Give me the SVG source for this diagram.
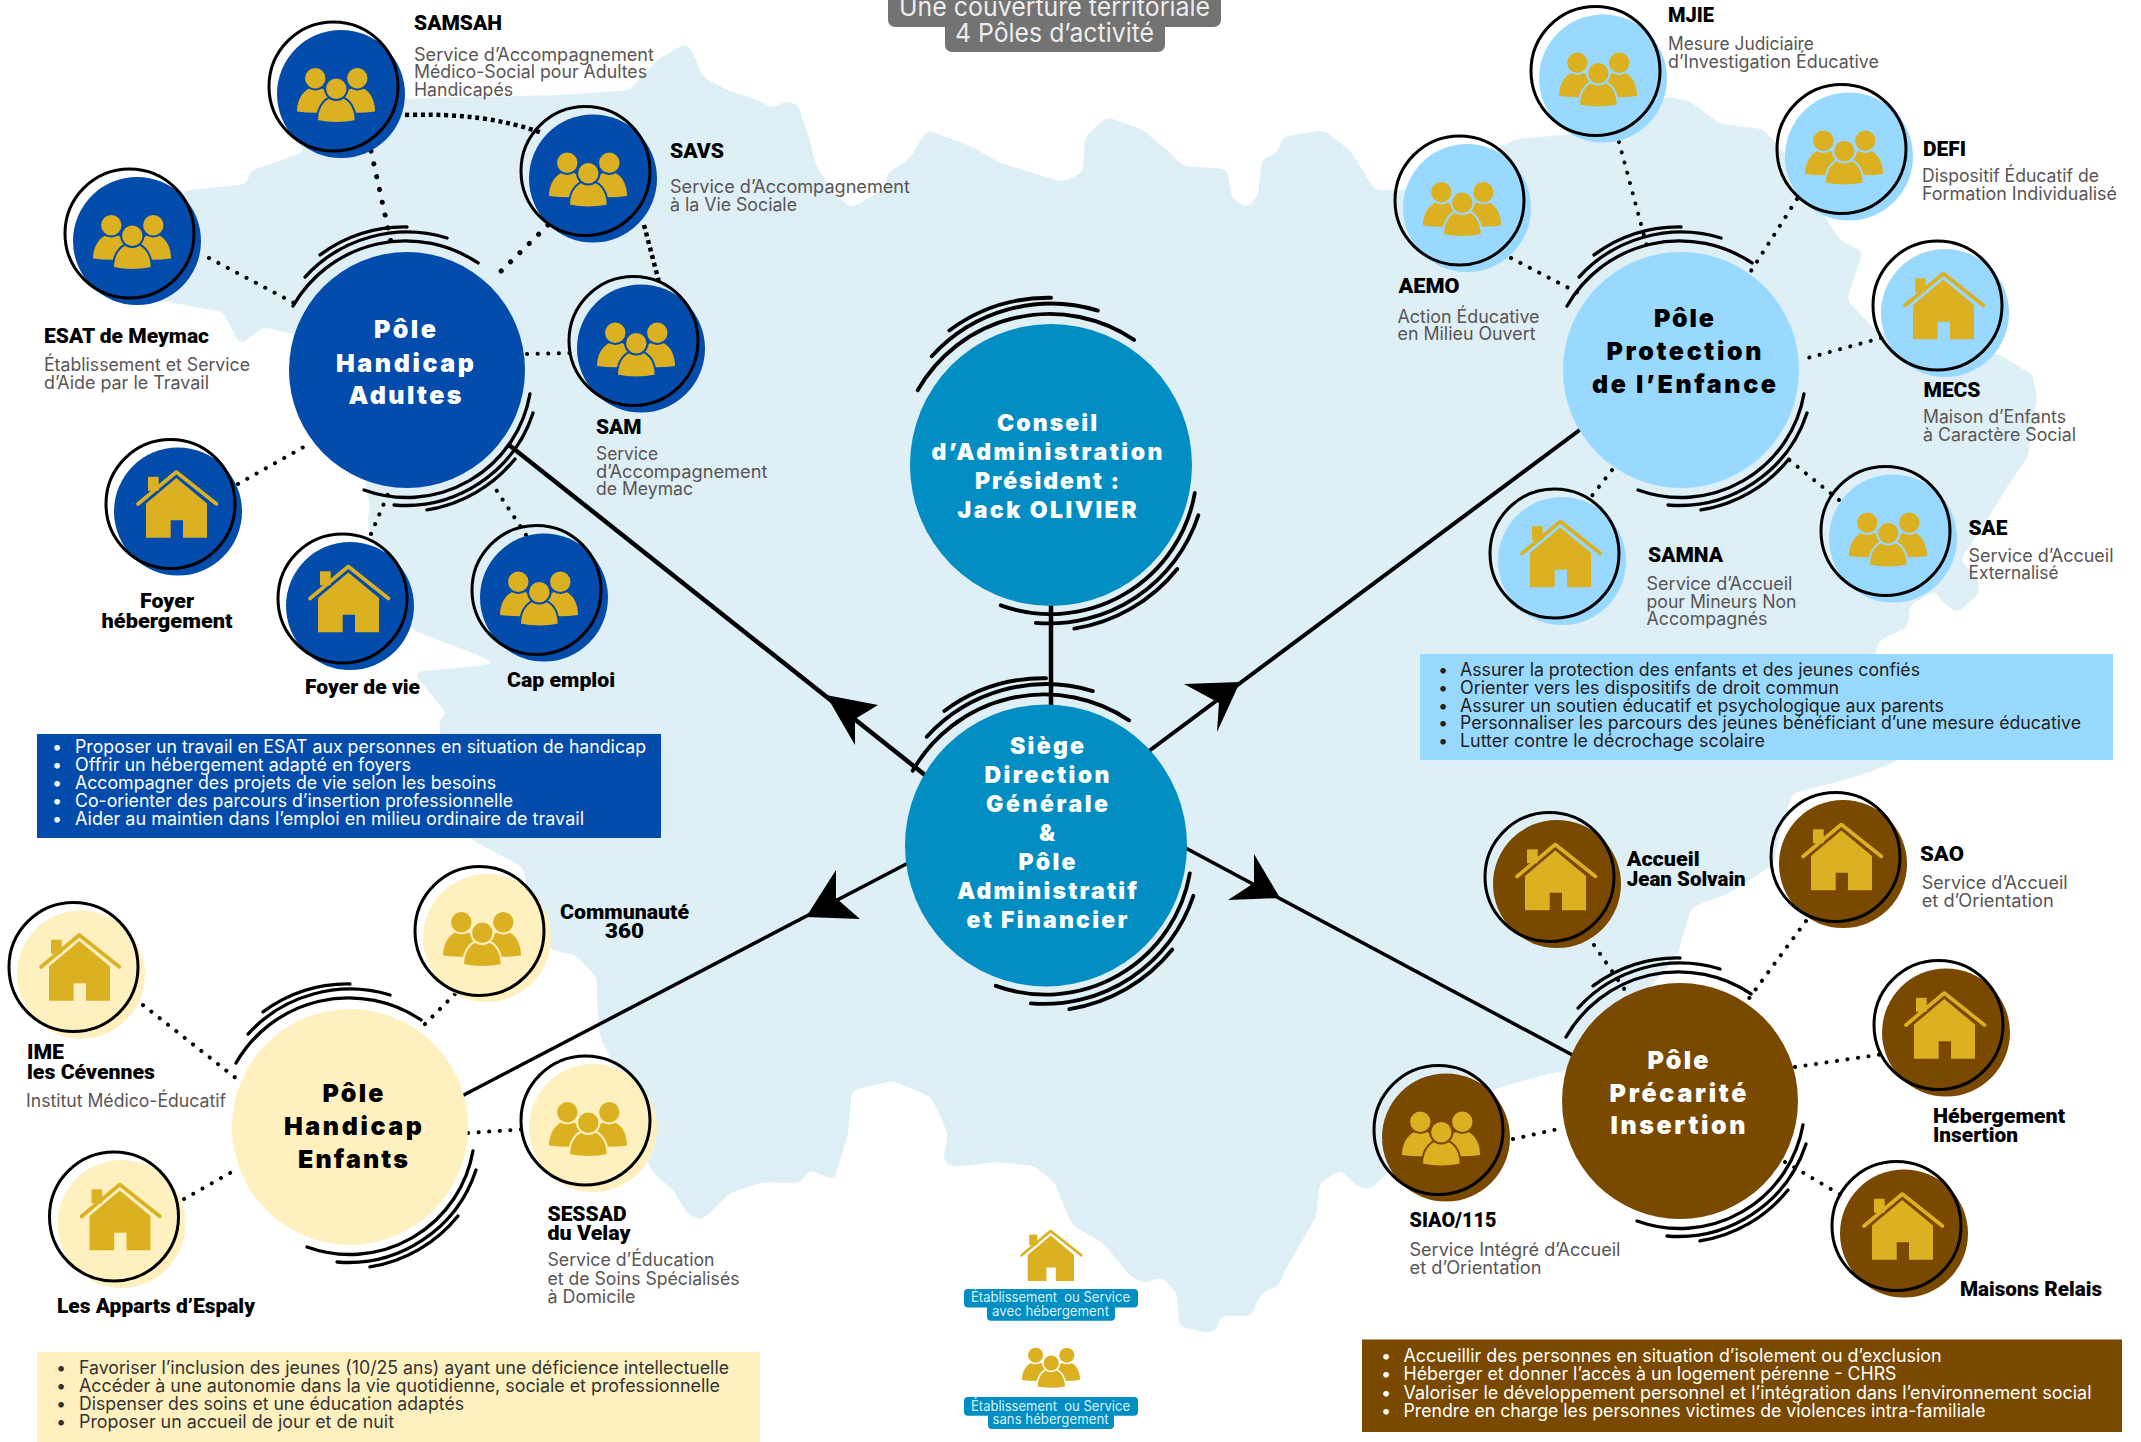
<svg xmlns="http://www.w3.org/2000/svg" width="2141" height="1442" viewBox="0 0 2141 1442">
<style>
text{font-family:"Inter","Liberation Sans",sans-serif}
.n{font-family:"Roboto","Liberation Sans",sans-serif;font-weight:900;font-size:19.5px;fill:#000}
.d{font-size:18px;font-weight:400;fill:#595555}
.t{font-weight:900;font-size:25px;letter-spacing:2px;text-anchor:middle;fill:#fff}
.c{font-weight:900;font-size:23px;text-anchor:middle;fill:#fff}
.t.k{fill:#000}
.l{font-size:18px;font-weight:400}
.w{fill:#fff}.y{fill:#333}.q{fill:#222}
.m{text-anchor:middle}
.o{fill:none;stroke:#000;stroke-width:3}
.sw path{fill:none;stroke:#000;stroke-width:2.8;stroke-linecap:round}
.dot{fill:none;stroke:#000;stroke-width:4;stroke-linecap:round;stroke-dasharray:.1 10.5}
.dot2{fill:none;stroke:#000;stroke-width:5;stroke-linecap:round;stroke-dasharray:.1 13}
.sq{fill:none;stroke:#000;stroke-width:4.5;stroke-dasharray:4 3.8}
.ln{stroke:#000;stroke-linecap:butt;fill:none}
.ar{fill:#000}
.ha{fill:#034CAC;color:#034CAC}.pe{fill:#9AD9FF;color:#9AD9FF}.en{fill:#FEF1BF;color:#FEF1BF}.pr{fill:#7A4900;color:#7A4900}.si{fill:#028EC2}
.ic{fill:#DBB122;stroke:none}
.ring{stroke:currentColor;stroke-width:2}
.lg{font-size:14px;font-weight:400;fill:#D8F1FA;text-anchor:middle}
.tp{font-size:26px;font-weight:400;fill:#ECECEC;text-anchor:middle}
</style>
<defs>
<filter id="soft" x="-2%" y="-2%" width="104%" height="104%"><feGaussianBlur stdDeviation="3.5"/><feComponentTransfer><feFuncA type="linear" slope="8" intercept="-3.5"/></feComponentTransfer></filter>
<g id="swirl" class="sw">
<path d="M-96.6 -54.2A110 110 0 0 1 60.2 -90.7"/>
<path d="M-86.4 -78.8A117 117 0 0 1 33.9 -111.9"/>
<path d="M-73.7 -97.5A121 121 0 0 1 0 -121.2"/>
<path d="M104.2 20.3A106 106 0 0 1 -36.4 101.7"/>
<path d="M106.8 36.4A114 114 0 0 1 -11 114.4"/>
<path d="M91.5 75.4A120 120 0 0 1 16.9 118.6"/>
</g>
<g id="house" class="ic">
<path d="M-40 -7.5L-1.7 -39.5L38.5 -7.5" stroke-width="3.6" stroke-linecap="round" stroke-linejoin="round" style="stroke:#DBB122;fill:none"/>
<rect x="-30" y="-34.7" width="10.7" height="14"/>
<path d="M-1.7 -33.5L29 -8V26.3H5V8.7H-7.3V26.3H-32V-8Z"/>
</g>
<g id="people" class="ic">
<path d="M-44 17.5C-44 2 -34 -7 -25.7 -7C-16 -7 -7 2 -7 17.5Q-25 20 -44 17.5Z"/>
<path d="M34 17.5C34 2 25 -7 16.3 -7C7 -7 -2 2 -2 17.5Q16 20 34 17.5Z"/>
<circle class="ring" cx="-25.7" cy="-15.8" r="11.2"/>
<circle class="ring" cx="16.3" cy="-15.8" r="11.2"/>
<path class="ring" d="M-24 27C-24 10 -14 2 -4.7 2C5 2 14.7 10 14.7 27Q-4.7 31 -24 27Z"/>
<circle class="ring" cx="-4.7" cy="-5.2" r="11.2"/>
</g>
</defs>
<path id="map" fill="#DEEFF6" filter="url(#soft)" d="M200 308L160 300L120 250L150 200L170 196L190 190L247 184L250 171L273 163L307 151L293 140L340 100L560 95L603 92L630 90L657 60L687 43L693 53L703 77L727 90L757 100L773 108L787 101L798 105L810 140L815 163L833 193L852 208L883 190L888 173L910 158L927 130L973 147L1000 163L1063 182L1083 172L1085 137L1107 117L1143 130L1167 150L1183 166L1227 169L1232 198L1247 208L1258 195L1262 159L1277 153L1283 137L1323 130L1350 150L1375 190L1420 190L1516 139L1574 134L1600 110L1671 97L1691 102L1720 124L1763 129L1800 170L1827 220L1840 240L1863 252L1850 290L1847 300L1873 328L1900 340L2000 355L2033 375L2037 397L2028 457L2007 487L1987 520L1960 560L1977 577L1980 593L1957 613L1940 600L1937 590L1910 605L1908 627L1880 640L1875 653L1890 700L1900 760L1867 773L1833 783L1793 793L1780 830L1774 864L1728 894L1692 907L1686 925L1677 957L1620 1020L1565 1071L1544 1075L1498 1088L1440 1120L1371 1189L1358 1187L1340 1170L1320 1183L1316 1217L1285 1270L1279 1286L1261 1293L1251 1316L1220 1316L1217 1330L1206 1333L1179 1326L1177 1293L1162 1277L1144 1283L1131 1277L1103 1243L1072 1225L1067 1213L1055 1183L1034 1166L996 1162L955 1167L943 1162L948 1134L931 1097L893 1081L852 1090L848 1134L841 1157L834 1180L810 1170L800 1183L763 1182L730 1193L710 1213L700 1220L687 1213L673 1190L653 1173L620 1100L610 1057L600 1037L597 1000L597 978L576 955L551 950L530 900L523 867L472 840L445 800L439 720L447 714L413 672L500 664L413 630L380 560L367 523L370 507L360 450L297 335L263 327L240 345L223 312Z"/>
<g id="title">
<rect x="888" y="-12" width="333" height="39" rx="7" fill="#737373"/>
<rect x="945" y="14" width="220" height="38" rx="7" fill="#737373"/>
<text class="tp" x="1054.5" y="16" textLength="311" lengthAdjust="spacingAndGlyphs">Une couverture territoriale</text>
<text class="tp" x="1054.5" y="42" textLength="199" lengthAdjust="spacingAndGlyphs">4 Pôles d’activité</text>
</g>
<g id="connectors">
<line class="ln" stroke-width="4.5" x1="1051" y1="600" x2="1051" y2="710"/>
<line class="ln" stroke-width="4.5" x1="509" y1="445" x2="930" y2="779"/>
<polygon class="ar" points="826,695 878,705 855,719 855,745"/>
<line class="ln" stroke-width="4" x1="1145" y1="754" x2="1585" y2="426"/>
<polygon class="ar" points="1240,682 1184,684 1219,703 1217,732"/>
<line class="ln" stroke-width="3.5" x1="1180" y1="845" x2="1578" y2="1058"/>
<polygon class="ar" points="1280,898 1254,854 1254,883 1228,900"/>
<line class="ln" stroke-width="3.5" x1="912" y1="861" x2="458" y2="1098"/>
<polygon class="ar" points="806,917 836,870 836,898 860,919"/>
<line class="dot2" x1="371" y1="151" x2="393" y2="251"/>
<path class="sq" d="M405 115Q485 112 542 133"/>
<line class="dot2" x1="548" y1="225" x2="494" y2="278"/>
<line class="sq" x1="644" y1="225" x2="659" y2="282"/>
<line class="dot" x1="209" y1="258" x2="294" y2="303"/>
<line class="dot" x1="527" y1="354" x2="573" y2="353"/>
<line class="dot" x1="238" y1="484" x2="309" y2="444"/>
<line class="dot" x1="371" y1="534" x2="391" y2="487"/>
<line class="dot" x1="526" y1="535" x2="491" y2="482"/>
<line class="dot" x1="1619" y1="142" x2="1649" y2="254"/>
<line class="dot" x1="1797" y1="199" x2="1751" y2="271"/>
<line class="dot" x1="1511" y1="258" x2="1586" y2="297"/>
<line class="dot" x1="1881" y1="338" x2="1804" y2="359"/>
<line class="dot" x1="1839" y1="500" x2="1788" y2="459"/>
<line class="dot" x1="1612" y1="470" x2="1591" y2="497"/>
<line class="dot" x1="455" y1="994" x2="421" y2="1028"/>
<line class="dot" x1="143" y1="1005" x2="237" y2="1079"/>
<line class="dot" x1="184" y1="1199" x2="237" y2="1169"/>
<line class="dot" x1="468" y1="1133" x2="528" y2="1129"/>
<line class="dot" x1="1594" y1="945" x2="1627" y2="993"/>
<line class="dot" x1="1806" y1="921" x2="1747" y2="1001"/>
<line class="dot" x1="1795" y1="1067" x2="1884" y2="1054"/>
<line class="dot" x1="1513" y1="1139" x2="1563" y2="1128"/>
<line class="dot" x1="1785" y1="1162" x2="1846" y2="1198"/>
</g>

<g id="box-handicap-adultes">
<rect x="37" y="734" width="624" height="104" class="ha"/>
<text class="l w" x="52" y="753">•</text><text class="l w" x="75" y="753" textLength="571" lengthAdjust="spacingAndGlyphs">Proposer un travail en ESAT aux personnes en situation de handicap</text>
<text class="l w" x="52" y="771">•</text><text class="l w" x="75" y="771" textLength="336" lengthAdjust="spacingAndGlyphs">Offrir un hébergement adapté en foyers</text>
<text class="l w" x="52" y="789">•</text><text class="l w" x="75" y="789" textLength="421" lengthAdjust="spacingAndGlyphs">Accompagner des projets de vie selon les besoins</text>
<text class="l w" x="52" y="807">•</text><text class="l w" x="75" y="807" textLength="438" lengthAdjust="spacingAndGlyphs">Co-orienter des parcours d’insertion professionnelle</text>
<text class="l w" x="52" y="825">•</text><text class="l w" x="75" y="825" textLength="509" lengthAdjust="spacingAndGlyphs">Aider au maintien dans l’emploi en milieu ordinaire de travail</text>
</g>
<g id="box-protection">
<rect x="1420" y="654" width="693" height="106" class="pe"/>
<text class="l q" x="1438" y="675.5">•</text><text class="l q" x="1460" y="675.5" textLength="460" lengthAdjust="spacingAndGlyphs">Assurer la protection des enfants et des jeunes confiés</text>
<text class="l q" x="1438" y="693.5">•</text><text class="l q" x="1460" y="693.5" textLength="379" lengthAdjust="spacingAndGlyphs">Orienter vers les dispositifs de droit commun</text>
<text class="l q" x="1438" y="711.5">•</text><text class="l q" x="1460" y="711.5" textLength="484" lengthAdjust="spacingAndGlyphs">Assurer un soutien éducatif et psychologique aux parents</text>
<text class="l q" x="1438" y="729.3">•</text><text class="l q" x="1460" y="729.3" textLength="621" lengthAdjust="spacingAndGlyphs">Personnaliser les parcours des jeunes bénéficiant d’une mesure éducative</text>
<text class="l q" x="1438" y="747">•</text><text class="l q" x="1460" y="747" textLength="305" lengthAdjust="spacingAndGlyphs">Lutter contre le décrochage scolaire</text>
</g>
<g id="box-enfants">
<rect x="37" y="1352" width="723" height="97" class="en"/>
<text class="l y" x="56" y="1374">•</text><text class="l y" x="79" y="1374" textLength="650" lengthAdjust="spacingAndGlyphs">Favoriser l’inclusion des jeunes (10/25 ans) ayant une déficience intellectuelle</text>
<text class="l y" x="56" y="1392">•</text><text class="l y" x="79" y="1392" textLength="641" lengthAdjust="spacingAndGlyphs">Accéder à une autonomie dans la vie quotidienne, sociale et professionnelle</text>
<text class="l y" x="56" y="1410">•</text><text class="l y" x="79" y="1410" textLength="385" lengthAdjust="spacingAndGlyphs">Dispenser des soins et une éducation adaptés</text>
<text class="l y" x="56" y="1428">•</text><text class="l y" x="79" y="1428" textLength="315" lengthAdjust="spacingAndGlyphs">Proposer un accueil de jour et de nuit</text>
</g>
<g id="box-precarite">
<rect x="1362" y="1339.5" width="760" height="92.5" class="pr"/>
<text class="l w" x="1381" y="1362">•</text><text class="l w" x="1403.5" y="1362" textLength="538" lengthAdjust="spacingAndGlyphs">Accueillir des personnes en situation d’isolement ou d’exclusion</text>
<text class="l w" x="1381" y="1380">•</text><text class="l w" x="1403.5" y="1380" textLength="493" lengthAdjust="spacingAndGlyphs">Héberger et donner l’accès à un logement pérenne - CHRS</text>
<text class="l w" x="1381" y="1398.5">•</text><text class="l w" x="1403.5" y="1398.5" textLength="688" lengthAdjust="spacingAndGlyphs">Valoriser le développement personnel et l’intégration dans l’environnement social</text>
<text class="l w" x="1381" y="1416.7">•</text><text class="l w" x="1403.5" y="1416.7" textLength="582" lengthAdjust="spacingAndGlyphs">Prendre en charge les personnes victimes de violences intra-familiale</text>
</g>

<g id="conseil"><circle cx="1051" cy="465" r="141" class="si"/><use href="#swirl" transform="translate(1051 465) scale(1.38)"/>
<text class="c" x="1047" y="431" textLength="100" lengthAdjust="spacing">Conseil</text>
<text class="c" x="1047" y="460" textLength="231" lengthAdjust="spacing">d’Administration</text>
<text class="c" x="1047" y="489" textLength="144" lengthAdjust="spacing">Président :</text>
<text class="c" x="1047" y="518" textLength="179" lengthAdjust="spacing">Jack OLIVIER</text>
</g>
<g id="siege"><circle cx="1046" cy="845.5" r="141" class="si"/><use href="#swirl" transform="translate(1046 845.5) scale(1.38)"/>
<text class="c" x="1047" y="754" textLength="74" lengthAdjust="spacing">Siège</text>
<text class="c" x="1047" y="783" textLength="125" lengthAdjust="spacing">Direction</text>
<text class="c" x="1047" y="812" textLength="122" lengthAdjust="spacing">Générale</text>
<text class="c" x="1047" y="841">&amp;</text>
<text class="c" x="1047" y="870" textLength="57" lengthAdjust="spacing">Pôle</text>
<text class="c" x="1047" y="899" textLength="180" lengthAdjust="spacing">Administratif</text>
<text class="c" x="1047" y="928" textLength="161" lengthAdjust="spacing">et Financier</text>
</g>

<g id="pole-handicap-adultes"><circle cx="407" cy="370" r="118" class="ha"/><use href="#swirl" transform="translate(407 370) scale(1.18)"/>
<text class="t" x="406" y="338" textLength="64" lengthAdjust="spacing">Pôle</text>
<text class="t" x="406" y="371.5" textLength="140" lengthAdjust="spacing">Handicap</text>
<text class="t" x="406" y="404" textLength="115" lengthAdjust="spacing">Adultes</text></g>
<g id="pole-protection"><circle cx="1681" cy="370" r="118" class="pe"/><use href="#swirl" transform="translate(1681 370) scale(1.18)"/>
<text class="t k" x="1685" y="327" textLength="62" lengthAdjust="spacing">Pôle</text>
<text class="t k" x="1685" y="360" textLength="157" lengthAdjust="spacing">Protection</text>
<text class="t k" x="1685" y="393" textLength="186" lengthAdjust="spacing">de l’Enfance</text></g>
<g id="pole-enfants"><circle cx="350" cy="1127" r="118" class="en"/><use href="#swirl" transform="translate(350 1127) scale(1.18)"/>
<text class="t k" x="354" y="1102" textLength="63" lengthAdjust="spacing">Pôle</text>
<text class="t k" x="354" y="1135" textLength="140" lengthAdjust="spacing">Handicap</text>
<text class="t k" x="354" y="1168" textLength="112" lengthAdjust="spacing">Enfants</text></g>
<g id="pole-precarite"><circle cx="1680" cy="1101" r="118" class="pr"/><use href="#swirl" transform="translate(1680 1101) scale(1.18)"/>
<text class="t" x="1679" y="1069" textLength="63" lengthAdjust="spacing">Pôle</text>
<text class="t" x="1679" y="1102" textLength="139" lengthAdjust="spacing">Précarité</text>
<text class="t" x="1679" y="1134" textLength="137" lengthAdjust="spacing">Insertion</text></g>

<g id="samsah"><g class="ha"><circle cx="341" cy="94" r="64"/><use href="#people" transform="translate(341 94)"/></g><circle class="o" cx="333.5" cy="86.5" r="64.5"/>
<text class="n" x="414" y="30" textLength="88" lengthAdjust="spacingAndGlyphs">SAMSAH</text>
<text class="d" x="414" y="60.5" textLength="240" lengthAdjust="spacingAndGlyphs">Service d’Accompagnement</text>
<text class="d" x="414" y="78" textLength="233" lengthAdjust="spacingAndGlyphs">Médico-Social pour Adultes</text>
<text class="d" x="414" y="96" textLength="99" lengthAdjust="spacingAndGlyphs">Handicapés</text></g>
<g id="savs"><g class="ha"><circle cx="593" cy="178.5" r="64"/><use href="#people" transform="translate(593 178.5)"/></g><circle class="o" cx="585.5" cy="171" r="64.5"/>
<text class="n" x="670" y="158" textLength="54" lengthAdjust="spacingAndGlyphs">SAVS</text>
<text class="d" x="670" y="193" textLength="240" lengthAdjust="spacingAndGlyphs">Service d’Accompagnement</text>
<text class="d" x="670" y="211" textLength="127" lengthAdjust="spacingAndGlyphs">à la Vie Sociale</text></g>
<g id="esat"><g class="ha"><circle cx="137" cy="241" r="64"/><use href="#people" transform="translate(137 241)"/></g><circle class="o" cx="129.5" cy="233.5" r="64.5"/>
<text class="n" x="44" y="343" textLength="165" lengthAdjust="spacingAndGlyphs">ESAT de Meymac</text>
<text class="d" x="44" y="371" textLength="206" lengthAdjust="spacingAndGlyphs">Établissement et Service</text>
<text class="d" x="44" y="389" textLength="165" lengthAdjust="spacingAndGlyphs">d’Aide par le Travail</text></g>
<g id="sam"><g class="ha"><circle cx="641" cy="348.5" r="64"/><use href="#people" transform="translate(641 348.5)"/></g><circle class="o" cx="633.5" cy="341" r="64.5"/>
<text class="n" x="596" y="433.5" textLength="45.5" lengthAdjust="spacingAndGlyphs">SAM</text>
<text class="d" x="596" y="460" textLength="62" lengthAdjust="spacingAndGlyphs">Service</text>
<text class="d" x="596" y="477.5" textLength="171.5" lengthAdjust="spacingAndGlyphs">d’Accompagnement</text>
<text class="d" x="596" y="495" textLength="97" lengthAdjust="spacingAndGlyphs">de Meymac</text></g>
<g id="foyer-hebergement"><g class="ha"><circle cx="178" cy="511.5" r="64"/><use href="#house" transform="translate(178 511.5)"/></g><circle class="o" cx="170.5" cy="504" r="64.5"/>
<text class="n m" x="167" y="607.5" textLength="54" lengthAdjust="spacingAndGlyphs">Foyer</text>
<text class="n m" x="167" y="627.5" textLength="131" lengthAdjust="spacingAndGlyphs">hébergement</text></g>
<g id="foyer-vie"><g class="ha"><circle cx="350" cy="606" r="64"/><use href="#house" transform="translate(350 606)"/></g><circle class="o" cx="342.5" cy="598.5" r="64.5"/>
<text class="n" x="305" y="694" textLength="115" lengthAdjust="spacingAndGlyphs">Foyer de vie</text></g>
<g id="cap-emploi"><g class="ha"><circle cx="544" cy="597.5" r="64"/><use href="#people" transform="translate(544 597.5)"/></g><circle class="o" cx="536.5" cy="590" r="64.5"/>
<text class="n" x="507" y="686.5" textLength="108" lengthAdjust="spacingAndGlyphs">Cap emploi</text></g>

<g id="mjie"><g class="pe"><circle cx="1603" cy="78.5" r="64"/><use href="#people" transform="translate(1603 78.5)"/></g><circle class="o" cx="1595.5" cy="71" r="64.5"/>
<text class="n" x="1668" y="22" textLength="46" lengthAdjust="spacingAndGlyphs">MJIE</text>
<text class="d" x="1668" y="50" textLength="146" lengthAdjust="spacingAndGlyphs">Mesure Judiciaire</text>
<text class="d" x="1668" y="68" textLength="211" lengthAdjust="spacingAndGlyphs">d’Investigation Éducative</text></g>
<g id="defi"><g class="pe"><circle cx="1849" cy="156.5" r="64"/><use href="#people" transform="translate(1849 156.5)"/></g><circle class="o" cx="1841.5" cy="149" r="64.5"/>
<text class="n" x="1923" y="156" textLength="43" lengthAdjust="spacingAndGlyphs">DEFI</text>
<text class="d" x="1922" y="182" textLength="177" lengthAdjust="spacingAndGlyphs">Dispositif Éducatif de</text>
<text class="d" x="1922" y="200" textLength="195" lengthAdjust="spacingAndGlyphs">Formation Individualisé</text></g>
<g id="aemo"><g class="pe"><circle cx="1467" cy="208" r="64"/><use href="#people" transform="translate(1467 208)"/></g><circle class="o" cx="1459.5" cy="200.5" r="64.5"/>
<text class="n" x="1398.5" y="293" textLength="61" lengthAdjust="spacingAndGlyphs">AEMO</text>
<text class="d" x="1397.5" y="322.5" textLength="142" lengthAdjust="spacingAndGlyphs">Action Éducative</text>
<text class="d" x="1397.5" y="340" textLength="138" lengthAdjust="spacingAndGlyphs">en Milieu Ouvert</text></g>
<g id="mecs"><g class="pe"><circle cx="1945" cy="313" r="64"/><use href="#house" transform="translate(1945 313)"/></g><circle class="o" cx="1937.5" cy="305.5" r="64.5"/>
<text class="n" x="1923.5" y="397" textLength="57" lengthAdjust="spacingAndGlyphs">MECS</text>
<text class="d" x="1923" y="423" textLength="143" lengthAdjust="spacingAndGlyphs">Maison d’Enfants</text>
<text class="d" x="1923" y="441" textLength="153" lengthAdjust="spacingAndGlyphs">à Caractère Social</text></g>
<g id="sae"><g class="pe"><circle cx="1893" cy="538.5" r="64"/><use href="#people" transform="translate(1893 538.5)"/></g><circle class="o" cx="1885.5" cy="531" r="64.5"/>
<text class="n" x="1968.5" y="535" textLength="39" lengthAdjust="spacingAndGlyphs">SAE</text>
<text class="d" x="1968.5" y="561.5" textLength="145" lengthAdjust="spacingAndGlyphs">Service d’Accueil</text>
<text class="d" x="1968.5" y="579" textLength="90" lengthAdjust="spacingAndGlyphs">Externalisé</text></g>
<g id="samna"><g class="pe"><circle cx="1562" cy="561" r="64"/><use href="#house" transform="translate(1562 561)"/></g><circle class="o" cx="1554.5" cy="553.5" r="64.5"/>
<text class="n" x="1648" y="562" textLength="75" lengthAdjust="spacingAndGlyphs">SAMNA</text>
<text class="d" x="1646.5" y="589.5" textLength="146" lengthAdjust="spacingAndGlyphs">Service d’Accueil</text>
<text class="d" x="1646.5" y="607.5" textLength="150" lengthAdjust="spacingAndGlyphs">pour Mineurs Non</text>
<text class="d" x="1646.5" y="625" textLength="121" lengthAdjust="spacingAndGlyphs">Accompagnés</text></g>

<g id="communaute"><g class="en"><circle cx="487" cy="938" r="64"/><use href="#people" transform="translate(487 938)"/></g><circle class="o" cx="479.5" cy="931" r="64.5"/>
<text class="n m" x="624.5" y="918.5" textLength="129" lengthAdjust="spacingAndGlyphs">Communauté</text>
<text class="n m" x="624.5" y="938" textLength="39" lengthAdjust="spacingAndGlyphs">360</text></g>
<g id="ime"><g class="en"><circle cx="81" cy="974.5" r="64"/><use href="#house" transform="translate(81 974.5)"/></g><circle class="o" cx="73.5" cy="967" r="64.5"/>
<text class="n" x="27" y="1059" textLength="37" lengthAdjust="spacingAndGlyphs">IME</text>
<text class="n" x="27" y="1079" textLength="128" lengthAdjust="spacingAndGlyphs">les Cévennes</text>
<text class="d" x="26" y="1107" textLength="200" lengthAdjust="spacingAndGlyphs">Institut Médico-Éducatif</text></g>
<g id="apparts"><g class="en"><circle cx="121.5" cy="1224" r="64"/><use href="#house" transform="translate(121.5 1224)"/></g><circle class="o" cx="114" cy="1216.5" r="64.5"/>
<text class="n" x="57" y="1313" textLength="198" lengthAdjust="spacingAndGlyphs">Les Apparts d’Espaly</text></g>
<g id="sessad"><g class="en"><circle cx="593" cy="1128" r="64"/><use href="#people" transform="translate(593 1128)"/></g><circle class="o" cx="585.5" cy="1120.5" r="64.5"/>
<text class="n" x="547.5" y="1221" textLength="79" lengthAdjust="spacingAndGlyphs">SESSAD</text>
<text class="n" x="547.5" y="1239.5" textLength="83" lengthAdjust="spacingAndGlyphs">du Velay</text>
<text class="d" x="547.5" y="1266" textLength="167" lengthAdjust="spacingAndGlyphs">Service d’Éducation</text>
<text class="d" x="547.5" y="1284.5" textLength="192" lengthAdjust="spacingAndGlyphs">et de Soins Spécialisés</text>
<text class="d" x="547.5" y="1302.5" textLength="88" lengthAdjust="spacingAndGlyphs">à Domicile</text></g>

<g id="accueil"><g class="pr"><circle cx="1557" cy="884" r="64"/><use href="#house" transform="translate(1557 884)"/></g><circle class="o" cx="1549.5" cy="877" r="64.5"/>
<text class="n" x="1626.7" y="866" textLength="73" lengthAdjust="spacingAndGlyphs">Accueil</text>
<text class="n" x="1626.7" y="886" textLength="119" lengthAdjust="spacingAndGlyphs">Jean Solvain</text></g>
<g id="sao"><g class="pr"><circle cx="1843" cy="864" r="64"/><use href="#house" transform="translate(1843 864)"/></g><circle class="o" cx="1835.5" cy="857" r="64.5"/>
<text class="n" x="1920" y="861" textLength="44" lengthAdjust="spacingAndGlyphs">SAO</text>
<text class="d" x="1921.7" y="889" textLength="146" lengthAdjust="spacingAndGlyphs">Service d’Accueil</text>
<text class="d" x="1921.7" y="906.5" textLength="132" lengthAdjust="spacingAndGlyphs">et d’Orientation</text></g>
<g id="hebergement"><g class="pr"><circle cx="1946" cy="1032.5" r="64"/><use href="#house" transform="translate(1946 1032.5)"/></g><circle class="o" cx="1938.5" cy="1025" r="64.5"/>
<text class="n" x="1933" y="1122.5" textLength="132" lengthAdjust="spacingAndGlyphs">Hébergement</text>
<text class="n" x="1933" y="1141.5" textLength="85" lengthAdjust="spacingAndGlyphs">Insertion</text></g>
<g id="siao"><g class="pr"><circle cx="1446" cy="1137.5" r="64"/><use href="#people" transform="translate(1446 1137.5)"/></g><circle class="o" cx="1438.5" cy="1130" r="64.5"/>
<text class="n" x="1409.5" y="1227" textLength="87" lengthAdjust="spacingAndGlyphs">SIAO/115</text>
<text class="d" x="1409.5" y="1256" textLength="211" lengthAdjust="spacingAndGlyphs">Service Intégré d’Accueil</text>
<text class="d" x="1409.5" y="1274" textLength="132" lengthAdjust="spacingAndGlyphs">et d’Orientation</text></g>
<g id="maisons"><g class="pr"><circle cx="1904" cy="1233.5" r="64"/><use href="#house" transform="translate(1904 1233.5)"/></g><circle class="o" cx="1896.5" cy="1226" r="64.5"/>
<text class="n" x="1960" y="1295.5" textLength="142" lengthAdjust="spacingAndGlyphs">Maisons Relais</text></g>

<g id="legend-hebergement" style="color:#fff">
<use href="#house" transform="translate(1052 1261) scale(.76)"/>
<rect x="964" y="1289" width="174" height="18.5" rx="4" fill="#028EC2"/><rect x="987" y="1300" width="128" height="20.7" rx="4" fill="#028EC2"/>
<text class="lg" x="1050.5" y="1301.7" textLength="159" lengthAdjust="spacingAndGlyphs">Établissement&#160; ou Service</text>
<text class="lg" x="1050.5" y="1315.7" textLength="117" lengthAdjust="spacingAndGlyphs">avec hébergement</text></g>
<g id="legend-sans" style="color:#fff">
<use href="#people" transform="translate(1054.7 1367) scale(.745)"/>
<rect x="964" y="1397" width="174" height="18.7" rx="4" fill="#028EC2"/><rect x="988" y="1408" width="126" height="21" rx="4" fill="#028EC2"/>
<text class="lg" x="1050.5" y="1410.7" textLength="159" lengthAdjust="spacingAndGlyphs">Établissement&#160; ou Service</text>
<text class="lg" x="1050.5" y="1424" textLength="116" lengthAdjust="spacingAndGlyphs">sans hébergement</text></g>
</svg>
